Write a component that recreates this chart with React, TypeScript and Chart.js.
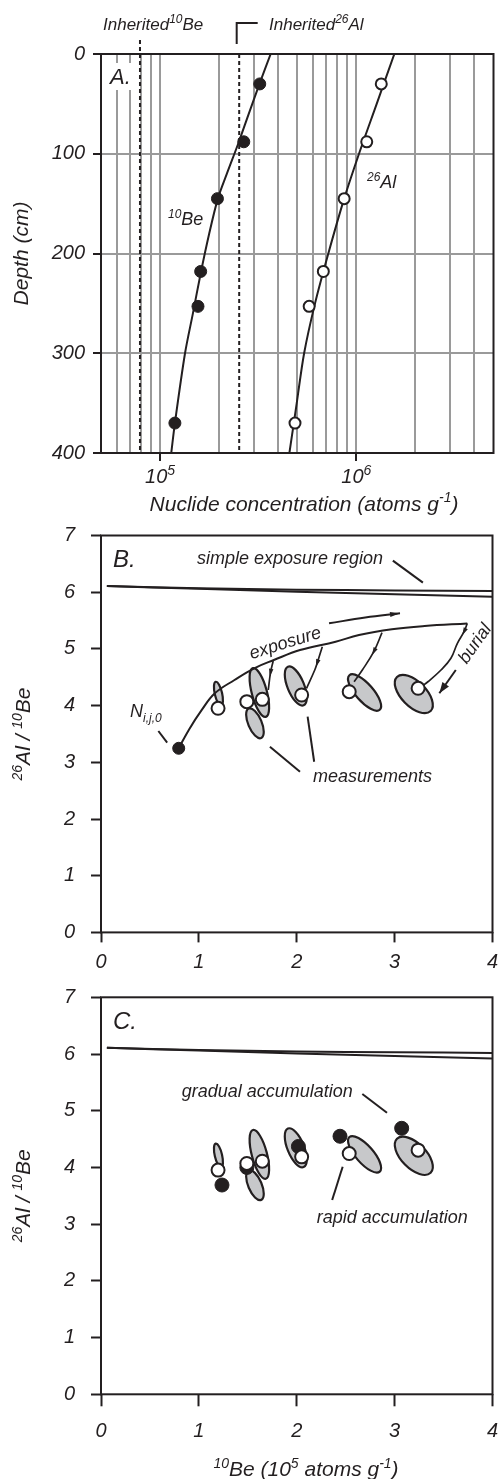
import React, { useEffect, useRef } from 'react';
import { Chart, registerables } from 'chart.js';

Chart.register(...registerables);

const FONT = '"Liberation Sans", Arial, Helvetica, sans-serif';
const INK = '#231f20';
const GRID = '#9a9a9a';
const ELLIPSE_FILL = '#c7c8ca';

// ---------------- Panel A : depth profiles ----------------
const sampleDepth = [30, 88, 145, 218, 253, 370];
const be10Measured = [3.22e5, 2.67e5, 1.96e5, 1.61e5, 1.56e5, 1.19e5];
const al26Measured = [1.34e6, 1.13e6, 8.67e5, 6.79e5, 5.75e5, 4.87e5];
const be10ModelDepth = [0, 30, 60, 90, 120, 145, 180, 220, 260, 300, 370, 400];
const be10Model = [3.66e5, 3.21e5, 2.83e5, 2.5e5, 2.19e5, 1.97e5, 1.78e5, 1.61e5, 1.47e5, 1.34e5, 1.19e5, 1.14e5];
const al26ModelDepth = [0, 50, 100, 146, 200, 250, 300, 350, 400];
const al26Model = [1.562e6, 1.27e6, 1.032e6, 8.64e5, 7.2e5, 6.16e5, 5.42e5, 4.97e5, 4.56e5];
const inheritedBe10 = 7.9e4;
const inheritedAl26 = 2.53e5;
const concGrid = [6e4, 7e4, 8e4, 9e4, 1e5, 2e5, 3e5, 4e5, 5e5, 6e5, 7e5, 8e5, 9e5, 1e6, 2e6, 3e6, 4e6];
const concLabelled = [1e5, 1e6];
const depthTicks = [0, 100, 200, 300, 400];

// ---------------- Panels B and C : two-nuclide plots ----------------
const ratioTicks = [0, 1, 2, 3, 4, 5, 6, 7];
const beTicks = [0, 1, 2, 3, 4];
const simpleBe = [0.06, 1, 2, 3, 4];
const simpleUpperRatio = [6.11, 6.07, 6.045, 6.03, 6.02];
const simpleLowerRatio = [6.11, 6.06, 6.01, 5.965, 5.92];
const initialBe = [0.794];
const initialRatio = [3.247];
const exposureBe = [0.794, 0.9, 1.028, 1.163, 1.364, 1.565, 1.766, 2.033, 2.397, 2.636, 2.972, 3.307, 3.742];
const exposureRatio = [3.247, 3.58, 3.92, 4.217, 4.452, 4.658, 4.804, 4.98, 5.127, 5.245, 5.346, 5.404, 5.45];
const burialPathBe = [
  [1.759, 1.732, 1.709],
  [2.261, 2.208, 2.184, 2.1],
  [2.871, 2.787, 2.67, 2.586],
  [3.742, 3.709, 3.641, 3.575, 3.474, 3.34, 3.273],
];
const burialPathRatio = [
  [4.787, 4.58, 4.275],
  [5.039, 4.746, 4.628, 4.305],
  [5.286, 4.951, 4.628, 4.421],
  [5.451, 5.303, 5.099, 4.834, 4.628, 4.421, 4.333],
];
const burialHeadIndex = [1, 1, 1, 1];
const exposureArrowBe = [2.33, 2.7, 3.055];
const exposureArrowRatio = [5.451, 5.554, 5.628];
const burialArrowBe = [3.625, 3.457];
const burialArrowRatio = [4.628, 4.217];
const measuredBe = [1.196, 1.49, 1.648, 2.05, 2.536, 3.24];
const measuredRatio = [3.953, 4.07, 4.11, 4.187, 4.245, 4.305];
const ellipseBe = [1.2, 1.573, 1.618, 1.99, 2.693, 3.196];
const ellipseRatio = [4.21, 3.688, 4.231, 4.346, 4.231, 4.205];
const ellipseAxisBe = [-0.028, -0.064, -0.066, -0.08, -0.155, -0.172];
const ellipseAxisRatio = [0.21, 0.26, 0.43, 0.34, 0.305, 0.3];
const ellipseMinorRatio = [0.3, 0.42, 0.3, 0.4, 0.38, 0.52];
const gradualBe = [1.236, 1.49, 2.017, 2.442, 3.072];
const gradualRatio = [3.69, 4.0, 4.37, 4.55, 4.69];

// annotation leader lines in data coordinates [x1, y1, x2, y2]
const leadersB = [
  [2.982, 6.556, 3.289, 6.168],
  [0.586, 3.552, 0.676, 3.346],
  [1.726, 3.275, 2.033, 2.834],
  [2.111, 3.804, 2.178, 3.01],
];
const leadersC = [
  [2.67, 5.295, 2.922, 4.965],
  [2.469, 4.013, 2.362, 3.426],
];

type Seg = [string, string?];

function segFont(size: number, kind?: string) {
  const s = kind === 'sup' || kind === 'sub' ? Math.round(size * 0.68) : size;
  return `italic ${s}px ${FONT}`;
}

function drawRich(ctx: CanvasRenderingContext2D, segs: Seg[], x: number, y: number, size: number, align: 'left' | 'center' = 'left', rot = 0, vcenter = false) {
  ctx.save();
  ctx.translate(x, y);
  if (rot) ctx.rotate(rot);
  let w = 0;
  for (const [t, k] of segs) {
    ctx.font = segFont(size, k);
    w += ctx.measureText(t).width;
  }
  let cx = align === 'center' ? -w / 2 : 0;
  const base = vcenter ? size * 0.36 : 0;
  ctx.fillStyle = INK;
  ctx.textAlign = 'left';
  ctx.textBaseline = 'alphabetic';
  for (const [t, k] of segs) {
    ctx.font = segFont(size, k);
    const dy = k === 'sup' ? -size * 0.4 : k === 'sub' ? size * 0.25 : 0;
    ctx.fillText(t, cx, base + dy);
    cx += ctx.measureText(t).width;
  }
  ctx.restore();
}

const tickFont = (size: number) => ({ family: FONT, size, style: 'italic' as const });
const xy = (xs: number[], ys: number[]) => xs.map((v, i) => ({ x: v, y: ys[i] }));
const lineDs = (xs: number[], ys: number[], extra: any = {}) => ({
  data: xy(xs, ys),
  showLine: true,
  pointRadius: 0,
  pointHoverRadius: 0,
  borderColor: INK,
  borderWidth: 2,
  tension: 0.4,
  fill: false,
  ...extra,
});

function frame(chart: any) {
  const { ctx, chartArea: a } = chart;
  ctx.save();
  ctx.strokeStyle = INK;
  ctx.lineWidth = 2;
  ctx.strokeRect(a.left, a.top, a.right - a.left, a.bottom - a.top);
  ctx.restore();
}

function drawLeaders(chart: any, list: number[][]) {
  const { ctx, scales } = chart;
  ctx.save();
  ctx.strokeStyle = INK;
  ctx.lineWidth = 2;
  for (const [x1, y1, x2, y2] of list) {
    ctx.beginPath();
    ctx.moveTo(scales.x.getPixelForValue(x1), scales.y.getPixelForValue(y1));
    ctx.lineTo(scales.x.getPixelForValue(x2), scales.y.getPixelForValue(y2));
    ctx.stroke();
  }
  ctx.restore();
}

function drawEllipses(chart: any) {
  const { ctx, scales, chartArea: a } = chart;
  ctx.save();
  ctx.beginPath();
  ctx.rect(a.left, a.top, a.right - a.left, a.bottom - a.top);
  ctx.clip();
  ellipseBe.forEach((bx, i) => {
    const cx = scales.x.getPixelForValue(bx);
    const cy = scales.y.getPixelForValue(ellipseRatio[i]);
    const tx = scales.x.getPixelForValue(bx + ellipseAxisBe[i]);
    const ty = scales.y.getPixelForValue(ellipseRatio[i] + ellipseAxisRatio[i]);
    const major = Math.hypot(tx - cx, ty - cy);
    const ang = Math.atan2(ty - cy, tx - cx);
    ctx.beginPath();
    ctx.ellipse(cx, cy, major, major * ellipseMinorRatio[i], ang, 0, Math.PI * 2);
    ctx.fillStyle = ELLIPSE_FILL;
    ctx.fill();
    ctx.strokeStyle = INK;
    ctx.lineWidth = 2.2;
    ctx.stroke();
  });
  ctx.restore();
}

function drawArrowHeads(chart: any) {
  const { ctx } = chart;
  chart.data.datasets.forEach((ds: any, i: number) => {
    if (ds.arrowAt == null) return;
    const pts = chart.getDatasetMeta(i).data;
    const k = ds.arrowAt;
    const p = pts[k];
    const a = pts[k - 1];
    const isEnd = k >= pts.length - 1;
    const b = isEnd ? pts[k] : pts[k + 1];
    let dx = b.x - a.x, dy = b.y - a.y;
    const len = Math.hypot(dx, dy) || 1;
    dx /= len; dy /= len;
    const L = ds.headLen, W = ds.headW / 2;
    const fwd = isEnd ? 0 : L * 0.5;
    const back = isEnd ? L : L * 0.5;
    ctx.save();
    ctx.fillStyle = INK;
    ctx.beginPath();
    ctx.moveTo(p.x + dx * fwd, p.y + dy * fwd);
    const bx = p.x - dx * back;
    const by = p.y - dy * back;
    ctx.lineTo(bx - dy * W, by + dx * W);
    ctx.lineTo(bx + dy * W, by - dx * W);
    ctx.closePath();
    ctx.fill();
    ctx.restore();
  });
}

function baseOptions(padTop: number) {
  return {
    responsive: false,
    maintainAspectRatio: false,
    animation: false,
    events: [],
    layout: { padding: { top: padTop, right: 2, left: 0, bottom: 0 } },
    plugins: { legend: { display: false }, tooltip: { enabled: false } },
  };
}

function ratioScales(xHeight: number, tickLenX: number, padX: number) {
  return {
    x: {
      type: 'linear', min: 0, max: 4, position: 'bottom',
      afterBuildTicks: (s: any) => { s.ticks = beTicks.map((v) => ({ value: v })); },
      ticks: { font: tickFont(20), color: INK, padding: padX, autoSkip: false, maxRotation: 0 },
      grid: { drawOnChartArea: false, drawTicks: true, tickLength: tickLenX, tickWidth: 2, tickColor: INK, color: INK },
      border: { display: false },
      afterFit: (s: any) => { s.height = xHeight; s.paddingLeft = 0; s.paddingRight = 0; },
    },
    y: {
      type: 'linear', min: 0, max: 7,
      afterBuildTicks: (s: any) => { s.ticks = ratioTicks.map((v) => ({ value: v })); },
      ticks: { font: tickFont(20), color: INK, padding: 16, autoSkip: false },
      grid: { drawOnChartArea: false, drawTicks: true, tickLength: 10, tickWidth: 2, tickColor: INK, color: INK },
      border: { display: false },
      afterFit: (s: any) => { s.width = 101; s.paddingTop = 0; s.paddingBottom = 0; },
    },
  };
}

function configA(): any {
  return {
    type: 'scatter',
    data: {
      datasets: [
        { data: xy(be10Measured, sampleDepth), pointRadius: 6, pointBackgroundColor: INK, pointBorderColor: INK, pointBorderWidth: 1 },
        { data: xy(al26Measured, sampleDepth), pointRadius: 5.5, pointBackgroundColor: '#fff', pointBorderColor: INK, pointBorderWidth: 2 },
        lineDs(be10Model, be10ModelDepth, { tension: 0.3 }),
        lineDs(al26Model, al26ModelDepth, { tension: 0.3 }),
        lineDs([inheritedBe10, inheritedBe10], [-14, 400], { borderDash: [4, 3], clip: false, tension: 0 }),
        lineDs([inheritedAl26, inheritedAl26], [0, 400], { borderDash: [4, 3], tension: 0 }),
      ],
    },
    options: {
      ...baseOptions(54),
      scales: {
        x: {
          type: 'logarithmic', min: 5e4, max: 5e6, position: 'bottom',
          afterBuildTicks: (s: any) => { s.ticks = concGrid.map((v) => ({ value: v })); },
          ticks: { callback: () => '', autoSkip: false, maxRotation: 0, font: tickFont(19) },
          grid: {
            color: GRID, lineWidth: 2, drawTicks: true, tickLength: 8, tickWidth: 2,
            tickColor: (c: any) => (c.tick && concLabelled.includes(c.tick.value) ? INK : 'rgba(0,0,0,0)'),
          },
          border: { display: false },
          afterFit: (s: any) => { s.height = 67; s.paddingLeft = 0; s.paddingRight = 0; },
        },
        y: {
          type: 'linear', reverse: true, min: 0, max: 400,
          afterBuildTicks: (s: any) => { s.ticks = depthTicks.map((v) => ({ value: v })); },
          ticks: { font: tickFont(20), color: INK, padding: 8, autoSkip: false },
          grid: { color: GRID, lineWidth: 2, tickLength: 8, tickWidth: 2, tickColor: INK },
          border: { display: false },
          afterFit: (s: any) => { s.width = 101; s.paddingTop = 0; s.paddingBottom = 0; },
        },
      },
    },
    plugins: [{
      id: 'decorA',
      beforeDatasetsDraw(chart: any) {
        const ctx = chart.ctx;
        ctx.save();
        ctx.fillStyle = '#fff';
        ctx.fillRect(105, 63, 33, 27);
        ctx.restore();
      },
      afterDraw(chart: any) {
        const { ctx, chartArea: a, scales } = chart;
        frame(chart);
        ctx.save();
        ctx.strokeStyle = INK;
        ctx.lineWidth = 2;
        const bx = scales.x.getPixelForValue(inheritedAl26) - 2.5;
        ctx.beginPath();
        ctx.moveTo(bx, a.top - 10);
        ctx.lineTo(bx, a.top - 31);
        ctx.lineTo(bx + 21, a.top - 31);
        ctx.stroke();
        ctx.restore();
        drawRich(ctx, [['Inherited'], ['10', 'sup'], ['Be']], 103, 30, 17);
        drawRich(ctx, [['Inherited'], ['26', 'sup'], ['Al']], 269, 30, 17);
        drawRich(ctx, [['A.']], 110, 84, 22);
        drawRich(ctx, [['10', 'sup'], ['Be']], 168, 225, 18);
        drawRich(ctx, [['26', 'sup'], ['Al']], 367, 188, 18);
        for (const v of concLabelled) {
          drawRich(ctx, [['10'], [String(Math.round(Math.log10(v))), 'sup']], scales.x.getPixelForValue(v), a.bottom + 30, 20, 'center');
        }
        drawRich(ctx, [['Nuclide concentration (atoms g'], ['-1', 'sup'], [')']], 304, 510.5, 21, 'center');
        drawRich(ctx, [['Depth (cm)']], 28, (a.top + a.bottom) / 2, 21, 'center', -Math.PI / 2);
      },
    }],
  };
}

function configB(): any {
  const burial = burialPathBe.map((bx, i) => lineDs(bx, burialPathRatio[i], { borderWidth: 1.7, arrowAt: burialHeadIndex[i], headLen: 8, headW: 4.5 }));
  return {
    type: 'scatter',
    data: {
      datasets: [
        { data: xy(measuredBe, measuredRatio), pointRadius: 6.5, pointBackgroundColor: '#fff', pointBorderColor: INK, pointBorderWidth: 2 },
        { data: xy(initialBe, initialRatio), pointRadius: 6, pointBackgroundColor: INK, pointBorderColor: INK, pointBorderWidth: 1 },
        lineDs(exposureBe, exposureRatio),
        ...burial,
        lineDs(exposureArrowBe, exposureArrowRatio, { arrowAt: 2, headLen: 10, headW: 5 }),
        lineDs(burialArrowBe, burialArrowRatio, { tension: 0, arrowAt: 1, headLen: 11, headW: 8 }),
        lineDs(simpleBe, simpleUpperRatio, { tension: 0.3 }),
        lineDs(simpleBe, simpleLowerRatio, { tension: 0.3 }),
      ],
    },
    options: { ...baseOptions(15.5), scales: ratioScales(42.6, 10, 8) },
    plugins: [{
      id: 'decorB',
      beforeDatasetsDraw(chart: any) { drawEllipses(chart); },
      afterDatasetsDraw(chart: any) { drawArrowHeads(chart); },
      afterDraw(chart: any) {
        const { ctx, chartArea: a } = chart;
        frame(chart);
        drawLeaders(chart, leadersB);
        drawRich(ctx, [['B.']], 113, 46.7, 24);
        drawRich(ctx, [['simple exposure region']], 197, 43.5, 18);
        drawRich(ctx, [['exposure']], 285, 122, 18, 'center', -0.3, true);
        drawRich(ctx, [['N'], ['i,j,0', 'sub']], 130, 197, 18);
        drawRich(ctx, [['measurements']], 313, 262, 18);
        drawRich(ctx, [['burial']], 474, 123, 18, 'center', -0.96, true);
        drawRich(ctx, [['26', 'sup'], ['Al / '], ['10', 'sup'], ['Be']], 30, (a.top + a.bottom) / 2, 21, 'center', -Math.PI / 2);
      },
    }],
  };
}

function configC(): any {
  return {
    type: 'scatter',
    data: {
      datasets: [
        { data: xy(measuredBe, measuredRatio), pointRadius: 6.5, pointBackgroundColor: '#fff', pointBorderColor: INK, pointBorderWidth: 2 },
        { data: xy(gradualBe, gradualRatio), pointRadius: 7, pointBackgroundColor: INK, pointBorderColor: INK, pointBorderWidth: 1 },
        lineDs(simpleBe, simpleUpperRatio, { tension: 0.3 }),
        lineDs(simpleBe, simpleLowerRatio, { tension: 0.3 }),
      ],
    },
    options: { ...baseOptions(22.3), scales: ratioScales(84.7, 12, 13) },
    plugins: [{
      id: 'decorC',
      beforeDatasetsDraw(chart: any) { drawEllipses(chart); },
      afterDraw(chart: any) {
        const { ctx, chartArea: a } = chart;
        frame(chart);
        drawLeaders(chart, leadersC);
        drawRich(ctx, [['C.']], 113, 54.3, 24);
        drawRich(ctx, [['gradual accumulation']], 181.7, 122, 18);
        drawRich(ctx, [['rapid accumulation']], 316.7, 248, 18);
        drawRich(ctx, [['26', 'sup'], ['Al / '], ['10', 'sup'], ['Be']], 30, (a.top + a.bottom) / 2, 21, 'center', -Math.PI / 2);
        drawRich(ctx, [['10', 'sup'], ['Be (10'], ['5', 'sup'], [' atoms g'], ['-1', 'sup'], [')']], 306, 501, 21, 'center');
      },
    }],
  };
}

function Panel({ top, height, make }: { top: number; height: number; make: () => any }) {
  const ref = useRef<HTMLCanvasElement>(null);
  useEffect(() => {
    const chart = new Chart(ref.current as HTMLCanvasElement, make());
    return () => chart.destroy();
  }, []);
  return (
    <div style={{ position: 'absolute', left: 0, top, width: 501, height }}>
      <canvas ref={ref} width={501} height={height} style={{ width: 501, height, display: 'block' }} />
    </div>
  );
}

export default function App() {
  return (
    <div style={{ position: 'absolute', left: 0, top: 0, width: 501, height: 1479, background: '#fff', overflow: 'hidden' }}>
      <Panel top={0} height={520} make={configA} />
      <Panel top={520} height={455} make={configB} />
      <Panel top={975} height={504} make={configC} />
    </div>
  );
}
